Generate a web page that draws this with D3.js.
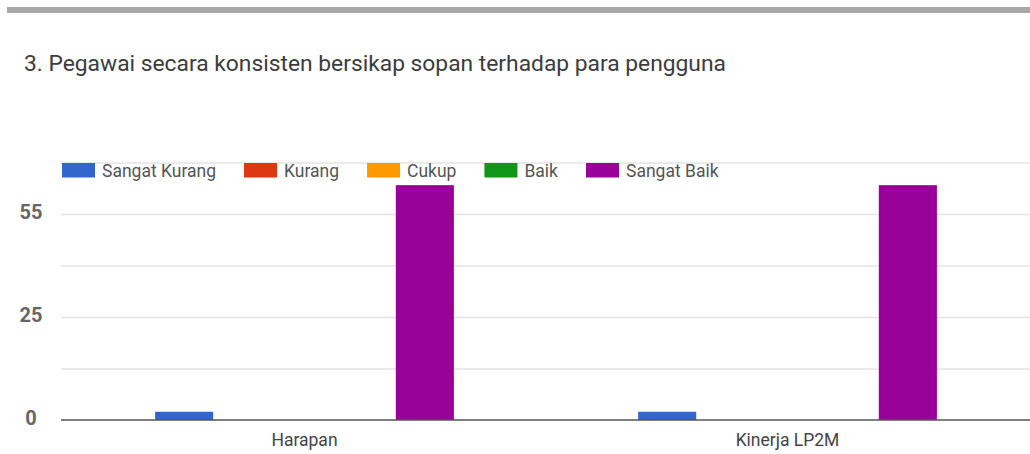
<!DOCTYPE html>
<html>
<head>
<meta charset="utf-8">
<script src="https://cdn.jsdelivr.net/npm/d3@7"></script>
<style>
  html, body { margin: 0; padding: 0; background: #fff; }
  svg { display: block; font-family: Roboto, "Noto Sans", Arial, sans-serif; }
</style>
</head>
<body>
<svg id="chart" width="1030" height="454"></svg>
<script>
const title = "3. Pegawai secara konsisten bersikap sopan terhadap para pengguna";
const categories = ["Harapan", "Kinerja LP2M"];
const seriesNames = ["Sangat Kurang", "Kurang", "Cukup", "Baik", "Sangat Baik"];
const seriesColors = ["#3366cc", "#dc3912", "#ff9900", "#109618", "#990099"];
const sangatKurang = [2, 2];
const kurang = [0, 0];
const cukup = [0, 0];
const baik = [0, 0];
const sangatBaik = [57, 57];
const tickValues = [0, 25, 50];
const tickLabels = ["0", "25", "55"];
const gridValues = [0, 12.5, 25, 37.5, 50, 62.5];

const seriesValues = [sangatKurang, kurang, cukup, baik, sangatBaik];

const svg = d3.select("#chart");

// top gray bar
svg.append("rect").attr("x", 7).attr("y", 7).attr("width", 1030).attr("height", 6).attr("fill", "#a9a9a9");

// title
svg.append("text").attr("x", 24).attr("y", 71)
  .attr("font-size", 22.8).attr("fill", "#3c3c3c").text(title);

const x0 = d3.scaleBand().domain(categories).range([61, 1031]).paddingInner(0.379).paddingOuter(0.1936);
const x1 = d3.scaleBand().domain(seriesNames).range([0, x0.bandwidth()]).paddingInner(0.035).paddingOuter(0.01);
const y = d3.scaleLinear().domain([0, 62.5]).range([420, 162.5]);

// gridlines
const grid = svg.append("g")
  .attr("transform", "translate(61,0)")
  .call(d3.axisLeft(y).tickValues(gridValues.slice(1)).tickSize(-1000).tickFormat(""));
grid.select(".domain").remove();
grid.selectAll("line").attr("stroke", "#e3e3e3").attr("stroke-width", 1.3);

// y labels
const yAxis = svg.append("g")
  .attr("transform", "translate(31,0)")
  .call(d3.axisLeft(y).tickValues(tickValues).tickSize(0).tickFormat((d, i) => tickLabels[i]));
yAxis.select(".domain").remove();
yAxis.selectAll("text")
  .attr("x", 0).attr("dy", "0.2em")
  .attr("text-anchor", "middle")
  .attr("font-family", "Roboto, sans-serif")
  .attr("font-size", 20).attr("font-weight", "bold").attr("fill", "#666");

// bars
const rows = [];
categories.forEach((c, ci) => {
  seriesNames.forEach((s, si) => {
    rows.push({ cat: c, series: s, value: seriesValues[si][ci], color: seriesColors[si] });
  });
});
svg.append("g").selectAll("rect").data(rows.filter(d => d.value > 0)).join("rect")
  .attr("x", d => x0(d.cat) + x1(d.series))
  .attr("width", x1.bandwidth())
  .attr("y", d => y(d.value))
  .attr("height", d => y(0) - y(d.value))
  .attr("fill", d => d.color);

// baseline
svg.append("line").attr("x1", 61).attr("x2", 1030).attr("y1", y(0)).attr("y2", y(0))
  .attr("stroke", "#555").attr("stroke-width", 1.6);

// x labels
const xAxis = svg.append("g").attr("transform", `translate(0,${y(0)})`)
  .call(d3.axisBottom(x0).tickSize(0));
xAxis.select(".domain").remove();
xAxis.selectAll("text")
  .attr("y", 0).attr("dy", "1.5em")
  .attr("font-family", "Roboto, sans-serif")
  .attr("font-size", 17.5).attr("fill", "#444");

// legend
const legend = svg.append("g");
let lx = 62;
seriesNames.forEach((s, i) => {
  legend.append("rect").attr("x", lx).attr("y", 163).attr("width", 33).attr("height", 14.5)
    .attr("fill", seriesColors[i]);
  const t = legend.append("text").attr("x", lx + 40).attr("y", 176.5)
    .attr("font-size", 17.5).attr("fill", "#555").text(s);
  lx += 40 + t.node().getComputedTextLength() + 28;
});
</script>
</body>
</html>
